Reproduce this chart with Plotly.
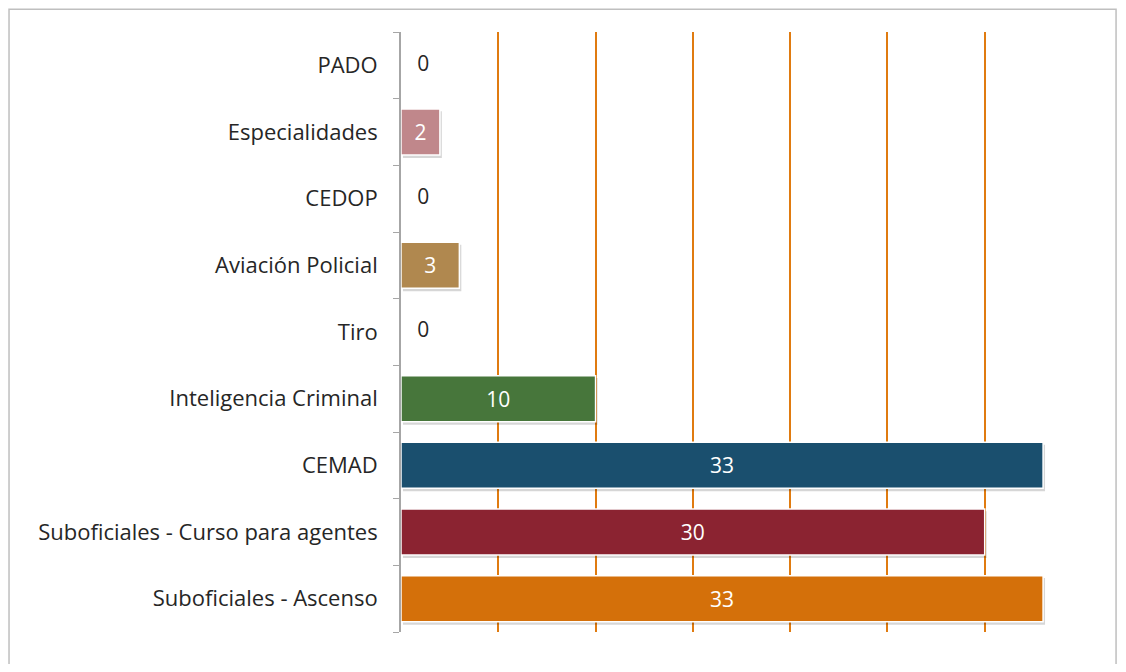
import plotly.graph_objects as go

categories = [
    "Suboficiales - Ascenso",
    "Suboficiales - Curso para agentes",
    "CEMAD",
    "Inteligencia Criminal",
    "Tiro",
    "Aviación Policial",
    "CEDOP",
    "Especialidades",
    "PADO",
]
values = [33, 30, 33, 10, 0, 3, 0, 2, 0]
bar_colors = [
    "#D4700A",
    "#8B2331",
    "#1A4F6E",
    "#47763B",
    "#5B9BD5",
    "#B0884F",
    "#7F7F7F",
    "#C0878B",
    "#4472C4",
]

FONT = "Open Sans"
SIZE = 22

fig = go.Figure()

# soft drop shadow behind each bar
fig.add_trace(
    go.Bar(
        x=values,
        y=categories,
        orientation="h",
        marker=dict(color="rgba(0,0,0,0.16)", line=dict(width=0)),
        width=0.7,
        offset=-0.39,
        base=0.1,
        hoverinfo="skip",
        showlegend=False,
    )
)

fig.add_trace(
    go.Bar(
        x=values,
        y=categories,
        orientation="h",
        marker=dict(color=bar_colors, line=dict(color="white", width=1.5)),
        width=0.69,
        text=[str(v) for v in values],
        textposition="inside",
        insidetextanchor="middle",
        textangle=0,
        insidetextfont=dict(color="white", size=SIZE - 1, family=FONT),
        showlegend=False,
    )
)

# labels for empty bars (zero-length bars carry no text)
zero_cats = [c for c, v in zip(categories, values) if v == 0]
zero_vals = [v for v in values if v == 0]
fig.add_trace(
    go.Scatter(
        x=zero_vals,
        y=zero_cats,
        mode="text",
        text=["   " + str(v) for v in zero_vals],
        textposition="middle right",
        textfont=dict(color="#262626", size=SIZE - 1, family=FONT),
        cliponaxis=False,
        hoverinfo="skip",
        showlegend=False,
    )
)

fig.update_layout(
    width=1110,
    height=656,
    margin=dict(l=393, r=36, t=24, b=32),
    paper_bgcolor="white",
    plot_bgcolor="white",
    barmode="overlay",
    font=dict(family=FONT, size=SIZE, color="#262626"),
    xaxis=dict(
        range=[0, 35],
        dtick=5,
        showgrid=True,
        gridcolor="#E07B10",
        gridwidth=1.5,
        showticklabels=False,
        zeroline=False,
        showline=False,
        fixedrange=True,
    ),
    yaxis=dict(
        type="category",
        categoryorder="array",
        categoryarray=categories,
        tickson="boundaries",
        ticks="outside",
        ticklen=6,
        tickcolor="#A6A6A6",
        showline=True,
        linecolor="#A6A6A6",
        linewidth=1.5,
        ticksuffix="   ",
        tickfont=dict(family=FONT, size=SIZE, color="#262626"),
        showgrid=False,
    ),
    shapes=[
        dict(
            type="rect",
            xref="paper",
            yref="paper",
            x0=-0.5756,
            x1=1.050,
            y0=-0.06,
            y1=1.038,
            line=dict(color="#BFBFBF", width=1.5),
            layer="below",
        )
    ],
)

fig.write_html("out.html")
